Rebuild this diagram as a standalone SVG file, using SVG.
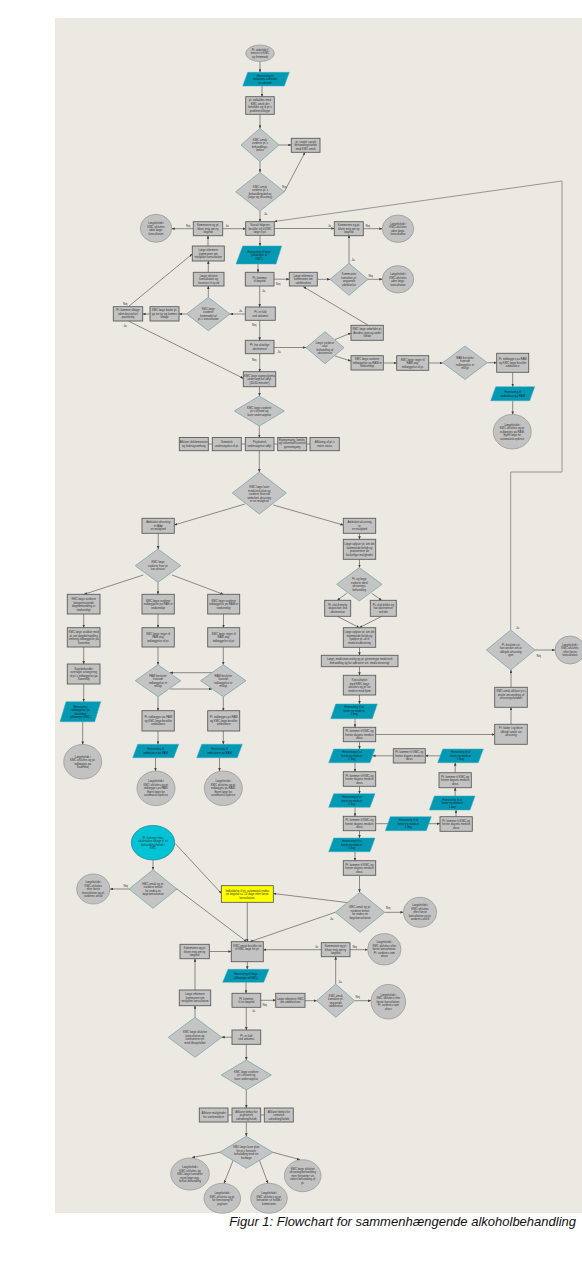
<svg xmlns="http://www.w3.org/2000/svg" width="582" height="1273" viewBox="0 0 582 1273">
<defs>
<marker id="ah" markerWidth="3.2" markerHeight="2.6" refX="3" refY="1.3" orient="auto" markerUnits="userSpaceOnUse"><path d="M0,0 L3.2,1.3 L0,2.6 z" fill="#404040"/></marker>
<style>
.b{fill:#c2c2c2;stroke:#5c5c5c;stroke-width:0.9}
.d{fill:#c4c4c4;stroke:#7aa7ac;stroke-width:0.8}
.e{fill:#c2c2c2;stroke:#8a8a8a;stroke-width:0.6}
.p{fill:#0499b3;stroke:#35aec2;stroke-width:0.5}
.cy{fill:#00c3d5;stroke:#2a7f8a;stroke-width:0.7}
.y{fill:#ffff00;stroke:#4a4a4a;stroke-width:0.8}
.t{font-family:"Liberation Sans",Arial,sans-serif;font-size:2.8px;fill:#333;text-anchor:middle}
.tp{font-family:"Liberation Sans",Arial,sans-serif;font-size:2.8px;fill:#0c2633;text-anchor:middle}
.lb{font-family:"Liberation Sans",Arial,sans-serif;font-size:3px;fill:#333}
.c{fill:none;stroke:#484848;stroke-width:0.6;marker-end:url(#ah)}
.cn{fill:none;stroke:#484848;stroke-width:0.6}
.cg{fill:none;stroke:#8c8c8c;stroke-width:0.9;marker-end:url(#ah)}
.cap{font-family:"Liberation Sans",Arial,sans-serif;font-size:13px;font-style:italic;fill:#111;text-anchor:end}
</style>
</defs>
<rect x="0" y="0" width="582" height="1273" fill="#ffffff"/>
<rect x="55" y="18" width="527" height="1195" fill="#ece8e2"/>

<g id="connectors">
<path class="c" d="M260,61.6 V72.3"/>
<path class="c" d="M262,86 V96.7"/>
<path class="c" d="M260,114.3 V128.3"/>
<path class="c" d="M279,145 H291.3"/>
<path class="c" d="M260,161.7 V172.3"/>
<path class="c" d="M284.3,191.7 L305,152.3"/>
<path class="c" d="M260,211 V221.7"/>
<path class="cg" d="M510.7,630 V472 H562 V181 L274.3,221.5"/>
<path class="c" d="M274.3,228.5 H334.3"/>
<path class="c" d="M363.3,228.7 H382.3"/>
<path class="c" d="M222.7,228.7 H245.7"/>
<path class="c" d="M193.3,228.7 H171.7"/>
<path class="c" d="M208,246 V235.7"/>
<path class="c" d="M260,235.3 V246"/>
<path class="c" d="M258,264 V272.3"/>
<path class="c" d="M274,279.2 H289.3"/>
<path class="c" d="M317.3,279.3 H330"/>
<path class="c" d="M349,263.3 V235"/>
<path class="c" d="M368,279.3 H382.3"/>
<path class="c" d="M259.7,286 V307"/>
<path class="c" d="M245.3,314 H230"/>
<path class="c" d="M186.6,314 H179"/>
<path class="c" d="M150,314 H142.7"/>
<path class="c" d="M208.3,297.3 V286"/>
<path class="c" d="M208.3,272.3 V261"/>
<path class="c" d="M128.3,306.7 L192.3,254"/>
<path class="c" d="M128.3,321 L243.3,378.3"/>
<path class="c" d="M259.7,320.3 V340.3"/>
<path class="c" d="M259.7,353.7 V371.7"/>
<path class="c" d="M274,347.5 H306"/>
<path class="c" d="M335,339.5 L351,333"/>
<path class="c" d="M335,356 L351,361"/>
<path class="c" d="M368.3,325.3 L303.3,286.7"/>
<path class="c" d="M383.3,363 H396.7"/>
<path class="c" d="M428.7,363 H442.7"/>
<path class="c" d="M487.3,362.7 H496.7"/>
<path class="c" d="M512.7,372.3 V386.7"/>
<path class="c" d="M512.7,400.7 V414.4"/>
<path class="c" d="M259.5,386.7 V396"/>
<path class="c" d="M259.3,426 V437.5"/>
<path class="cn" d="M208.3,444 H212.3 M241.3,444 H245.3 M274,444 H277.7 M306.7,444 H310"/>
<path class="c" d="M259.3,450.7 V472"/>
<path class="c" d="M245,504 L174.3,525"/>
<path class="c" d="M273.3,505 L343.3,525"/>
<path class="c" d="M158.2,533.3 V549"/>
<path class="c" d="M143.3,575 L84,594.3"/>
<path class="c" d="M158,582.3 V594.3"/>
<path class="c" d="M172,575 L223.3,594.3"/>
<path class="c" d="M83.7,614 V627.7"/>
<path class="c" d="M158,614 V627.7"/>
<path class="c" d="M223.5,614 V627.7"/>
<path class="c" d="M83.7,647 V664"/>
<path class="c" d="M83.7,684 V701.7"/>
<path class="c" d="M82.7,721.7 V744.4"/>
<path class="c" d="M158,647 V664.7"/>
<path class="c" d="M223.3,647 V664.7"/>
<path class="c" d="M212,672.7 H170"/>
<path class="c" d="M170,689 H212"/>
<path class="c" d="M158,696.7 V710.7"/>
<path class="c" d="M223.3,696.7 V710.7"/>
<path class="c" d="M158,731 V744.3"/>
<path class="c" d="M223.3,731 V744.3"/>
<path class="c" d="M155.5,757.7 V771"/>
<path class="c" d="M219.5,757.7 V771"/>
<path class="c" d="M359.5,533.3 V539.3"/>
<path class="c" d="M359.5,559.3 V567.6"/>
<path class="c" d="M346.7,593.3 L337.3,600.3"/>
<path class="c" d="M371.7,593.3 L381.7,600.3"/>
<path class="c" d="M337.3,616.3 L359.3,627.7"/>
<path class="c" d="M381.7,616.3 L359.3,627.7"/>
<path class="c" d="M359.5,647.3 V655.3"/>
<path class="c" d="M359.5,666.7 V675.3"/>
<path class="c" d="M359.5,695 V704"/>
<path class="c" d="M355,718.7 V727.3"/>
<path class="c" d="M359.5,741.7 V749"/>
<path class="c" d="M355,762.7 V771.7"/>
<path class="c" d="M359.5,786.3 V793.7"/>
<path class="c" d="M355,807.3 V816.3"/>
<path class="c" d="M359.5,830.7 V838"/>
<path class="c" d="M355,851.7 V860.7"/>
<path class="c" d="M359.5,875.3 V892.3"/>
<path class="c" d="M375.7,734.5 H494.7"/>
<path class="c" d="M393.3,755.8 H372.5"/>
<path class="c" d="M440.2,755.8 H425.3"/>
<path class="c" d="M455.2,772.7 V762.7"/>
<path class="c" d="M455.2,796 V787.7"/>
<path class="c" d="M456,816.7 V810"/>
<path class="c" d="M375.7,823.7 H440"/>
<path class="c" d="M511,724.3 V707.3"/>
<path class="c" d="M511,687.3 V670"/>
<path class="c" d="M535,650 H555"/>
<path class="c" d="M384.7,912.3 H403.3"/>
<path class="c" d="M348.3,902.7 L273.3,893.5"/>
<path class="c" d="M335.3,912.3 L250,941.7"/>
<path class="c" d="M175,843.3 L221.3,893.3"/>
<path class="c" d="M177,889 L246.7,941.7"/>
<path class="c" d="M247.3,902.3 V941.7"/>
<path class="c" d="M153,860 V869.7"/>
<path class="c" d="M129,889 H110"/>
<path class="c" d="M321.3,949.7 H263.3"/>
<path class="c" d="M350,949.7 H367.6"/>
<path class="c" d="M335.7,984 V956.7"/>
<path class="c" d="M354.7,1000.7 H371"/>
<path class="c" d="M209.3,951.5 H231.3"/>
<path class="c" d="M247.3,961.7 V969.3"/>
<path class="c" d="M246,982.3 V993.3"/>
<path class="c" d="M260.7,1000.3 H275.7"/>
<path class="c" d="M305,1000.7 H316.7"/>
<path class="c" d="M246.3,1007.3 V1030"/>
<path class="c" d="M232,1037.2 H221.7"/>
<path class="c" d="M195,1017.3 V1005.7"/>
<path class="c" d="M195,990 V958.7"/>
<path class="c" d="M246.3,1044.3 V1060"/>
<path class="c" d="M246.3,1090 V1108"/>
<path class="cn" d="M228,1115 H232 M260.7,1115 H264.3"/>
<path class="c" d="M246.3,1122 V1136.3"/>
<path class="c" d="M220,1152.3 L192,1157.5"/>
<path class="c" d="M233.3,1160 L224,1183.3"/>
<path class="c" d="M259.3,1160 L268,1183.3"/>
<path class="c" d="M273,1152.3 L300,1159.7"/>
</g>

<g id="labels">
<text class="lb" x="282" y="188">Nej</text>
<text class="lb" x="264" y="215">Ja</text>
<text class="lb" x="328" y="226.5">Ja</text>
<text class="lb" x="365.5" y="226.5">Nej</text>
<text class="lb" x="225.5" y="226.5">Ja</text>
<text class="lb" x="186" y="226.5">Nej</text>
<text class="lb" x="276" y="284.5">Nej</text>
<text class="lb" x="351.5" y="261">Ja</text>
<text class="lb" x="368.5" y="277">Nej</text>
<text class="lb" x="262" y="292">Ja</text>
<text class="lb" x="239" y="312">Ja</text>
<text class="lb" x="123" y="305">Nej</text>
<text class="lb" x="123.5" y="326.5">Ja</text>
<text class="lb" x="252" y="326">Nej</text>
<text class="lb" x="252" y="360.5">Nej</text>
<text class="lb" x="277.5" y="352.5">Ja</text>
<text class="lb" x="516" y="628.5">Ja</text>
<text class="lb" x="536.5" y="657">Nej</text>
<text class="lb" x="123.5" y="886.5">Nej</text>
<text class="lb" x="386" y="909">Nej</text>
<text class="lb" x="330" y="919.5">Ja</text>
<text class="lb" x="315" y="948">Ja</text>
<text class="lb" x="352.5" y="948">Nej</text>
<text class="lb" x="338.5" y="983">Ja</text>
<text class="lb" x="355.5" y="998">Nej</text>
<text class="lb" x="262.5" y="1005.5">Nej</text>
<text class="lb" x="252" y="1012">Ja</text>
</g>

<g id="n1"><ellipse class="e" cx="260" cy="53.3" rx="14.3" ry="8.3"/><text class="t"><tspan x="260" y="50.8">Pt. anbefalet/</tspan><tspan x="260" y="54.3">henvist til KMC</tspan><tspan x="260" y="57.8">og fremmødt</tspan></text></g>
<g id="n2"><polygon class="p" points="247.7,72.3 289.3,72.3 284.3,86 242.7,86"/><text class="tp"><tspan x="265" y="76.7">Henvisning til</tspan><tspan x="265" y="80.2">visitations-sekretær</tspan><tspan x="265" y="83.7">er udsendt</tspan></text></g>
<g id="n3"><rect class="b" x="245.7" y="96.7" width="28.6" height="17.6"/><text class="t"><tspan x="260" y="101.3">pt. indkaldes med</tspan><tspan x="260" y="104.8">KMC amuk der</tspan><tspan x="260" y="108.3">forholder sig til pt.'s</tspan><tspan x="260" y="111.8">problemstillinger</tspan></text></g>
<g id="n4"><polygon class="d" points="260,128.3 279,145 260,161.7 241,145"/><text class="t"><tspan x="260" y="140.8">KMC amuk</tspan><tspan x="260" y="144.3">vurderer pt.'s</tspan><tspan x="260" y="147.8">behandlings-</tspan><tspan x="260" y="151.3">behov</tspan></text></g>
<g id="n5"><rect class="b" x="291.3" y="138.3" width="28.7" height="14"/><text class="t"><tspan x="305.7" y="142.8">pt. starter socialt</tspan><tspan x="305.7" y="146.3">behandlingsforløb</tspan><tspan x="305.7" y="149.8">med KMC amuk</tspan></text></g>
<g id="n6"><polygon class="d" points="260,172.4 284.3,191.7 260,211 235.7,191.7"/><text class="t"><tspan x="260" y="187.5">KMC amuk</tspan><tspan x="260" y="191">vurderer pt.'s</tspan><tspan x="260" y="194.5">behandlingsbehov</tspan><tspan x="260" y="198">(læge og afrusning)</tspan></text></g>
<g id="n7"><rect class="b" x="245.7" y="221.7" width="28.6" height="13.6"/><text class="t"><tspan x="260" y="226">Socialt følgeren</tspan><tspan x="260" y="229.5">bestiller tid til KMC</tspan><tspan x="260" y="233">læge til pt.</tspan></text></g>
<g id="n8"><rect class="b" x="193.3" y="221.7" width="29.4" height="14"/><text class="t"><tspan x="208" y="226.2">Kommunen og pt.</tspan><tspan x="208" y="229.7">bliver enig om ny</tspan><tspan x="208" y="233.2">lægetid</tspan></text></g>
<g id="n9"><ellipse class="e" cx="156" cy="228.3" rx="15.7" ry="14"/><text class="t"><tspan x="156" y="224.1">Lægeforløb i</tspan><tspan x="156" y="227.6">KMC afsluttes</tspan><tspan x="156" y="231.1">uden læge-</tspan><tspan x="156" y="234.6">konsultation</tspan></text></g>
<g id="n10"><rect class="b" x="334.3" y="221.7" width="29" height="14"/><text class="t"><tspan x="348.8" y="226.2">Kommunen og pt.</tspan><tspan x="348.8" y="229.7">bliver enig om ny</tspan><tspan x="348.8" y="233.2">lægetid</tspan></text></g>
<g id="n11"><ellipse class="e" cx="398" cy="228.7" rx="15.7" ry="13.7"/><text class="t"><tspan x="398" y="224.5">Lægeforløb i</tspan><tspan x="398" y="228">KMC afsluttes</tspan><tspan x="398" y="231.5">uden læge-</tspan><tspan x="398" y="235">konsultation</tspan></text></g>
<g id="n12"><rect class="b" x="192.3" y="246" width="32" height="15"/><text class="t"><tspan x="208.3" y="251">Læge informere</tspan><tspan x="208.3" y="254.5">kommunen om</tspan><tspan x="208.3" y="258">mislykket konsultation</tspan></text></g>
<g id="n13"><polygon class="p" points="242.7,246 281.7,246 276,264 236,264"/><text class="tp"><tspan x="259" y="252.5">Henvisning til læge</tspan><tspan x="259" y="256">(afhænger af</tspan><tspan x="259" y="259.5">KMC)</tspan></text></g>
<g id="n14"><rect class="b" x="193.3" y="272.3" width="30.7" height="13.7"/><text class="t"><tspan x="208.7" y="276.7">Læge afslutter</tspan><tspan x="208.7" y="280.2">konsultation og</tspan><tspan x="208.7" y="283.7">henviser til ny tid</tspan></text></g>
<g id="n15"><rect class="b" x="245.3" y="272.3" width="28.7" height="13.7"/><text class="t"><tspan x="259.7" y="278.5">Pt. kommer</tspan><tspan x="259.7" y="282">til lægetid</tspan></text></g>
<g id="n16"><rect class="b" x="289.3" y="272.3" width="28" height="13.7"/><text class="t"><tspan x="303.3" y="276.7">Læge informere</tspan><tspan x="303.3" y="280.2">kommunen om</tspan><tspan x="303.3" y="283.7">udeblivelsen</tspan></text></g>
<g id="n17"><polygon class="d" points="349,263.3 368,279.3 349,295.3 330,279.3"/><text class="t"><tspan x="349" y="275.1">Kommunen</tspan><tspan x="349" y="278.6">kontakter pt.</tspan><tspan x="349" y="282.1">angående</tspan><tspan x="349" y="285.6">udeblivelse</tspan></text></g>
<g id="n18"><ellipse class="e" cx="398" cy="279.3" rx="15.7" ry="13.7"/><text class="t"><tspan x="398" y="275.1">Lægeforløb i</tspan><tspan x="398" y="278.6">KMC afsluttes</tspan><tspan x="398" y="282.1">uden læge-</tspan><tspan x="398" y="285.6">konsultation</tspan></text></g>
<g id="n19"><polygon class="d" points="208.3,297.3 230,314 208.3,330.7 186.6,314"/><text class="t"><tspan x="208.3" y="309.8">KMC læge</tspan><tspan x="208.3" y="313.3">vurderer</tspan><tspan x="208.3" y="316.8">fremmødet af</tspan><tspan x="208.3" y="320.3">pt.'s konsultation</tspan></text></g>
<g id="n20"><rect class="b" x="245.3" y="307" width="30" height="13.3"/><text class="t"><tspan x="260.3" y="313">Pt. er fuld</tspan><tspan x="260.3" y="316.5">ved ankomst</tspan></text></g>
<g id="n21"><rect class="b" x="150" y="306.7" width="29" height="14.3"/><text class="t"><tspan x="164.5" y="311.3">KMC læge beder pt.</tspan><tspan x="164.5" y="314.8">gå en tur og komme</tspan><tspan x="164.5" y="318.3">tilbage</tspan></text></g>
<g id="n22"><rect class="b" x="113.3" y="306.7" width="29.4" height="14.3"/><text class="t"><tspan x="128" y="311.3">Pt. kommer tilbage</tspan><tspan x="128" y="314.8">uden beruselse/</tspan><tspan x="128" y="318.3">påvirkning</tspan></text></g>
<g id="n23"><rect class="b" x="245.3" y="340.3" width="28.7" height="13.4"/><text class="t"><tspan x="259.7" y="346.3">Pt. har alvorlige</tspan><tspan x="259.7" y="349.8">abstinenser</tspan></text></g>
<g id="n24"><polygon class="d" points="325,331.7 344,347.7 325,363.7 306,347.7"/><text class="t"><tspan x="325" y="343.5">Læge vurderer</tspan><tspan x="325" y="347">akut</tspan><tspan x="325" y="350.5">behandling af</tspan><tspan x="325" y="354">abstinenser</tspan></text></g>
<g id="n25"><rect class="b" x="351" y="325.3" width="32.3" height="15"/><text class="t"><tspan x="367.2" y="330.3">KMC læge anbefaler pt.</tspan><tspan x="367.2" y="333.8">Antabus igen og andet</tspan><tspan x="367.2" y="337.3">forløb</tspan></text></g>
<g id="n26"><rect class="b" x="351" y="355.7" width="32.3" height="14.3"/><text class="t"><tspan x="367.2" y="360.3">KMC læge vurderer</tspan><tspan x="367.2" y="363.8">indlæggelse på RAM er</tspan><tspan x="367.2" y="367.3">nødvendigt</tspan></text></g>
<g id="n27"><rect class="b" x="396.7" y="355.7" width="32" height="14.6"/><text class="t"><tspan x="412.7" y="360.5">KMC læge ringer til</tspan><tspan x="412.7" y="364">RAM ang.</tspan><tspan x="412.7" y="367.5">indlæggelse af pt.</tspan></text></g>
<g id="n28"><polygon class="d" points="465,346 487.3,362.7 465,379.4 442.7,362.7"/><text class="t"><tspan x="465" y="358.5">RAM beslutter</tspan><tspan x="465" y="362">hvorvidt</tspan><tspan x="465" y="365.5">indlæggelse er</tspan><tspan x="465" y="369">muligt</tspan></text></g>
<g id="n29"><rect class="b" x="496.7" y="353.3" width="32" height="19"/><text class="t"><tspan x="512.7" y="360.3">Pt. indlægges på RAM</tspan><tspan x="512.7" y="363.8">og KMC læge bestiller</tspan><tspan x="512.7" y="367.3">ambulance</tspan></text></g>
<g id="n30"><polygon class="p" points="495.7,386.7 534.7,386.7 529.7,400.7 490.7,400.7"/><text class="tp"><tspan x="512.7" y="393">Henvisning til</tspan><tspan x="512.7" y="396.5">ambulance på RAM</tspan></text></g>
<g id="n31"><ellipse class="e" cx="512.3" cy="431.7" rx="19" ry="17.3"/><text class="t"><tspan x="512.3" y="425.7">Lægeforløb i</tspan><tspan x="512.3" y="429.2">KMC afsluttes og pt.</tspan><tspan x="512.3" y="432.7">indlægges på RAM.</tspan><tspan x="512.3" y="436.2">Egen læge får</tspan><tspan x="512.3" y="439.7">automatisk epikrise</tspan></text></g>
<g id="n32"><rect class="b" x="243.3" y="371.7" width="32.4" height="15"/><text class="t"><tspan x="259.5" y="376.7">KMC læge spørgeskema</tspan><tspan x="259.5" y="380.2">undersøgelse udfyl.</tspan><tspan x="259.5" y="383.7">(30-60 minutter)</tspan></text></g>
<g id="n33"><polygon class="d" points="259.3,396 284.3,411 259.3,426 234.3,411"/><text class="t"><tspan x="259.3" y="408.5">KMC læge vurderer</tspan><tspan x="259.3" y="412">pt.s tilstand og</tspan><tspan x="259.3" y="415.5">laver undersøgelse</tspan></text></g>
<g id="n34"><rect class="b" x="179.3" y="437.5" width="29" height="13.2"/><text class="t"><tspan x="193.8" y="443.4">Afklarer drikkemønster</tspan><tspan x="193.8" y="446.9">og forbrugsomfang</tspan></text></g>
<g id="n35"><rect class="b" x="212.3" y="437.5" width="29" height="13.2"/><text class="t"><tspan x="226.8" y="443.4">Somatisk</tspan><tspan x="226.8" y="446.9">undersøgelse af pt.</tspan></text></g>
<g id="n36"><rect class="b" x="245.3" y="437.5" width="28.7" height="13.2"/><text class="t"><tspan x="259.7" y="443.4">Psykiatrisk</tspan><tspan x="259.7" y="446.9">undersøgelse udfyl.</tspan></text></g>
<g id="n37"><rect class="b" x="277.7" y="437.5" width="29" height="13.2"/><text class="t"><tspan x="292.2" y="440.6">Egenomsorg, familie,</tspan><tspan x="292.2" y="444.1">og sikkerhed historisk</tspan><tspan x="292.2" y="447.6">gennemgang</tspan></text></g>
<g id="n38"><rect class="b" x="310" y="437.5" width="29.3" height="13.2"/><text class="t"><tspan x="324.7" y="443.4">Afklaring af pt.'s</tspan><tspan x="324.7" y="446.9">motiv status</tspan></text></g>
<g id="n39"><polygon class="d" points="259.3,472 286.3,493 259.3,514 232.3,493"/><text class="t"><tspan x="259.3" y="488">KMC læge laver</tspan><tspan x="259.3" y="491.5">medicinsk plan og</tspan><tspan x="259.3" y="495">vurderer hvorvidt</tspan><tspan x="259.3" y="498.5">ambulant afrusning</tspan><tspan x="259.3" y="502">er en mulighed</tspan></text></g>
<g id="n40"><rect class="b" x="142" y="518.3" width="32.3" height="15"/><text class="t"><tspan x="158.2" y="523.3">Ambulant afrusning</tspan><tspan x="158.2" y="526.8">er <tspan font-weight="bold">ikke</tspan></tspan><tspan x="158.2" y="530.3">en mulighed</tspan></text></g>
<g id="n41"><rect class="b" x="343.3" y="518.3" width="32.4" height="15"/><text class="t"><tspan x="359.5" y="523.3">Ambulant afrusning</tspan><tspan x="359.5" y="526.8">er</tspan><tspan x="359.5" y="530.3">en mulighed</tspan></text></g>
<g id="n42"><polygon class="d" points="158,549 180.7,565.7 158,582.4 135.3,565.7"/><text class="t"><tspan x="158" y="563.2">KMC læge</tspan><tspan x="158" y="566.7">vurderer hvor pt.</tspan><tspan x="158" y="570.2">kan afruses</tspan></text></g>
<g id="n43"><rect class="b" x="67.3" y="594.3" width="32.7" height="19.7"/><text class="t"><tspan x="83.7" y="600">KMC læge vurderer</tspan><tspan x="83.7" y="603.5">længerevarende</tspan><tspan x="83.7" y="607">døgnbehandling er</tspan><tspan x="83.7" y="610.5">nødvendigt</tspan></text></g>
<g id="n44"><rect class="b" x="142" y="594.3" width="32.3" height="19.7"/><text class="t"><tspan x="158.2" y="601.7">KMC læge vurderer</tspan><tspan x="158.2" y="605.2">indlæggelse på PAM er</tspan><tspan x="158.2" y="608.7">nødvendigt</tspan></text></g>
<g id="n45"><rect class="b" x="207.7" y="594.3" width="32" height="19.7"/><text class="t"><tspan x="223.7" y="601.7">KMC læge vurderer</tspan><tspan x="223.7" y="605.2">indlæggelse på RAM er</tspan><tspan x="223.7" y="608.7">nødvendigt</tspan></text></g>
<g id="n46"><rect class="b" x="67.3" y="627.7" width="32.7" height="19.3"/><text class="t"><tspan x="83.7" y="633.1">KMC læge snakker med</tspan><tspan x="83.7" y="636.6">pt. om døgnbehandling</tspan><tspan x="83.7" y="640.1">omkring indlæggelse på</tspan><tspan x="83.7" y="643.6">Saxenhøj</tspan></text></g>
<g id="n47"><rect class="b" x="142" y="627.7" width="32.3" height="19.3"/><text class="t"><tspan x="158.2" y="634.8">KMC læge ringer til</tspan><tspan x="158.2" y="638.3">PAM ang.</tspan><tspan x="158.2" y="641.8">indlæggelse af pt.</tspan></text></g>
<g id="n48"><rect class="b" x="207.7" y="627.7" width="32" height="19.3"/><text class="t"><tspan x="223.7" y="634.8">KMC læge ringer til</tspan><tspan x="223.7" y="638.3">RAM ang.</tspan><tspan x="223.7" y="641.8">indlæggelse af pt.</tspan></text></g>
<g id="n49"><rect class="b" x="67.3" y="664" width="32.7" height="20"/><text class="t"><tspan x="83.7" y="669.8">Sagsbehandler</tspan><tspan x="83.7" y="673.3">overtager arrangering</tspan><tspan x="83.7" y="676.8">af pt.'s indlæggelse på</tspan><tspan x="83.7" y="680.3">Saxenhøj</tspan></text></g>
<g id="n50"><polygon class="d" points="158,664.7 180.7,680.7 158,696.7 135.3,680.7"/><text class="t"><tspan x="158" y="676.5">PAM beslutter</tspan><tspan x="158" y="680">hvorvidt</tspan><tspan x="158" y="683.5">indlæggelse er</tspan><tspan x="158" y="687">muligt</tspan></text></g>
<g id="n51"><polygon class="d" points="223.3,664.7 246,680.7 223.3,696.7 200.6,680.7"/><text class="t"><tspan x="223.3" y="676.5">RAM beslutter</tspan><tspan x="223.3" y="680">hvorvidt</tspan><tspan x="223.3" y="683.5">indlæggelse er</tspan><tspan x="223.3" y="687">muligt</tspan></text></g>
<g id="n52"><polygon class="p" points="66,701.7 100.7,701.7 94.7,721.7 60,721.7"/><text class="tp"><tspan x="80.3" y="707.5">Henvisning</tspan><tspan x="80.3" y="711">indlæggelse på</tspan><tspan x="80.3" y="714.5">Saxenhøj</tspan><tspan x="80.3" y="718">(afhænger KMC)</tspan></text></g>
<g id="n53"><rect class="b" x="142" y="710.7" width="32.3" height="20.3"/><text class="t"><tspan x="158.2" y="718.3">Pt. indlægges på PAM</tspan><tspan x="158.2" y="721.8">og KMC læge bestiller</tspan><tspan x="158.2" y="725.3">ambulance</tspan></text></g>
<g id="n54"><rect class="b" x="207.7" y="710.7" width="32" height="20.3"/><text class="t"><tspan x="223.7" y="718.3">Pt. indlægges på RAM</tspan><tspan x="223.7" y="721.8">og KMC læge bestiller</tspan><tspan x="223.7" y="725.3">ambulance</tspan></text></g>
<g id="n55"><ellipse class="e" cx="82.7" cy="761.7" rx="19" ry="17.3"/><text class="t"><tspan x="82.7" y="757.5">Lægeforløb i</tspan><tspan x="82.7" y="761">KMC afsluttes og pt.</tspan><tspan x="82.7" y="764.5">indlægges på</tspan><tspan x="82.7" y="768">Saxenhøj</tspan></text></g>
<g id="n56"><polygon class="p" points="137.7,744.3 178.7,744.3 173.7,757.7 132.7,757.7"/><text class="tp"><tspan x="155.7" y="750.3">Henvisning til</tspan><tspan x="155.7" y="753.8">ambulance på PAM</tspan></text></g>
<g id="n57"><polygon class="p" points="201.7,744.3 242.3,744.3 237.3,757.7 196.7,757.7"/><text class="tp"><tspan x="219.5" y="750.3">Henvisning til</tspan><tspan x="219.5" y="753.8">ambulance på RAM</tspan></text></g>
<g id="n58"><ellipse class="e" cx="156" cy="788.3" rx="19" ry="17.3"/><text class="t"><tspan x="156" y="782.3">Lægeforløb i</tspan><tspan x="156" y="785.8">KMC afsluttes og pt.</tspan><tspan x="156" y="789.3">indlægges på PAM.</tspan><tspan x="156" y="792.8">Egen læge får</tspan><tspan x="156" y="796.3">automatisk epikrise</tspan></text></g>
<g id="n59"><ellipse class="e" cx="223.3" cy="788.3" rx="19" ry="17.3"/><text class="t"><tspan x="223.3" y="782.3">Lægeforløb i</tspan><tspan x="223.3" y="785.8">KMC afsluttes og pt.</tspan><tspan x="223.3" y="789.3">indlægges på RAM.</tspan><tspan x="223.3" y="792.8">Egen læge får</tspan><tspan x="223.3" y="796.3">automatisk epikrise</tspan></text></g>
<g id="n60"><ellipse class="cy" cx="153" cy="842.7" rx="21.7" ry="17.3"/><text class="t"><tspan x="153" y="838.5">Pt. kommer efter</tspan><tspan x="153" y="842">udskrivelse tilbage til sit</tspan><tspan x="153" y="845.5">behandlingsforløb i</tspan><tspan x="153" y="849">KMC</tspan></text></g>
<g id="n61"><polygon class="d" points="153,869.7 177,889 153,908.3 129,889"/><text class="t"><tspan x="153" y="884.8">KMC amuk og pt.</tspan><tspan x="153" y="888.3">vurderer behov</tspan><tspan x="153" y="891.8">for endnu en</tspan><tspan x="153" y="895.3">lægekonsultation</tspan></text></g>
<g id="n62"><ellipse class="e" cx="93.3" cy="889" rx="16.7" ry="15"/><text class="t"><tspan x="93.3" y="883">Lægeforløb i</tspan><tspan x="93.3" y="886.5">KMC afsluttes</tspan><tspan x="93.3" y="890">efter første</tspan><tspan x="93.3" y="893.5">konsultation og pt.</tspan><tspan x="93.3" y="897">vurderes afrust</tspan></text></g>
<g id="n63"><rect class="y" x="221.3" y="885.7" width="52" height="16.6"/><text class="t"><tspan x="247.3" y="891.5">Indkaldelse til pt. automatisk endnu</tspan><tspan x="247.3" y="895">en lægetid ca. 14 dage efter første</tspan><tspan x="247.3" y="898.5">konsultation.</tspan></text></g>
<g id="n64"><rect class="b" x="231.3" y="941.7" width="32" height="20"/><text class="t"><tspan x="247.3" y="946.5">KMC amuk bestiller tid</tspan><tspan x="247.3" y="950">til KMC læge for pt.</tspan></text></g>
<g id="n65"><rect class="b" x="180" y="944.3" width="29.3" height="14.4"/><text class="t"><tspan x="194.7" y="949">Kommunen og pt.</tspan><tspan x="194.7" y="952.5">bliver enig om ny</tspan><tspan x="194.7" y="956">lægetid</tspan></text></g>
<g id="n66"><rect class="b" x="343.3" y="727.3" width="32.4" height="14.4"/><text class="t"><tspan x="359.5" y="732">Pt. kommer til KMC og</tspan><tspan x="359.5" y="735.5">henter dagens medicin</tspan><tspan x="359.5" y="739">dosis</tspan></text></g>
<g id="n67"><rect class="b" x="393.3" y="748.7" width="32" height="14.3"/><text class="t"><tspan x="409.3" y="753.3">Pt. kommer til KMC og</tspan><tspan x="409.3" y="756.8">henter dagens medicin</tspan><tspan x="409.3" y="760.3">dosis</tspan></text></g>
<g id="n68"><rect class="b" x="343.3" y="771.7" width="32.4" height="14.6"/><text class="t"><tspan x="359.5" y="776.5">Pt. kommer til KMC og</tspan><tspan x="359.5" y="780">henter dagens medicin</tspan><tspan x="359.5" y="783.5">dosis</tspan></text></g>
<g id="n69"><rect class="b" x="439" y="772.7" width="32.3" height="15"/><text class="t"><tspan x="455.2" y="777.7">Pt. kommer til KMC og</tspan><tspan x="455.2" y="781.2">henter dagens medicin</tspan><tspan x="455.2" y="784.7">dosis</tspan></text></g>
<g id="n70"><rect class="b" x="343.3" y="816.3" width="32.4" height="14.4"/><text class="t"><tspan x="359.5" y="821">Pt. kommer til KMC og</tspan><tspan x="359.5" y="824.5">henter dagens medicin</tspan><tspan x="359.5" y="828">dosis</tspan></text></g>
<g id="n71"><rect class="b" x="440" y="816.7" width="32.3" height="14.6"/><text class="t"><tspan x="456.2" y="821.5">Pt. kommer til KMC og</tspan><tspan x="456.2" y="825">henter dagens medicin</tspan><tspan x="456.2" y="828.5">dosis</tspan></text></g>
<g id="n72"><rect class="b" x="343.3" y="860.7" width="32.4" height="14.6"/><text class="t"><tspan x="359.5" y="865.5">Pt. kommer til KMC og</tspan><tspan x="359.5" y="869">henter dagens medicin</tspan><tspan x="359.5" y="872.5">dosis</tspan></text></g>
<g id="p1"><polygon class="p" points="335.7,704 377.3,704 372.3,718.7 330.7,718.7"/><text class="tp"><tspan x="354" y="708.3">Henvisning til at</tspan><tspan x="354" y="711.8">hente ny medicin</tspan><tspan x="354" y="715.3">1 dag</tspan></text></g>
<g id="p2"><polygon class="p" points="333.7,749 375,749 370,762.7 328.7,762.7"/><text class="tp"><tspan x="351.8" y="753.3">Henvisning til at</tspan><tspan x="351.8" y="756.8">hente ny medicin</tspan><tspan x="351.8" y="760.3">1 dag</tspan></text></g>
<g id="p3"><polygon class="p" points="442.7,749 483.3,749 478.3,762.7 437.7,762.7"/><text class="tp"><tspan x="460.5" y="753.3">Henvisning til at</tspan><tspan x="460.5" y="756.8">hente ny medicin</tspan><tspan x="460.5" y="760.3">1 dag</tspan></text></g>
<g id="p4"><polygon class="p" points="333.7,793.7 375,793.7 370,807.3 328.7,807.3"/><text class="tp"><tspan x="351.8" y="798">Henvisning til at</tspan><tspan x="351.8" y="801.5">hente ny medicin</tspan><tspan x="351.8" y="805">1 dag</tspan></text></g>
<g id="p5"><polygon class="p" points="434.3,796 475,796 470,810 429.3,810"/><text class="tp"><tspan x="452.2" y="800.5">Henvisning til at</tspan><tspan x="452.2" y="804">hente ny medicin</tspan><tspan x="452.2" y="807.5">1 dag</tspan></text></g>
<g id="p6"><polygon class="p" points="390.3,816.7 431.3,816.7 426.3,830.7 385.3,830.7"/><text class="tp"><tspan x="408.3" y="821.2">Henvisning til at</tspan><tspan x="408.3" y="824.7">hente ny medicin</tspan><tspan x="408.3" y="828.2">1 dag</tspan></text></g>
<g id="p7"><polygon class="p" points="333.7,838 375,838 370,851.7 328.7,851.7"/><text class="tp"><tspan x="351.8" y="842.3">Henvisning til at</tspan><tspan x="351.8" y="845.8">hente ny medicin</tspan><tspan x="351.8" y="849.3">1 dag</tspan></text></g>
<g id="n73"><rect class="b" x="494.7" y="724.3" width="32.6" height="20"/><text class="t"><tspan x="511" y="729">Pt. falder i og bliver</tspan><tspan x="511" y="732.5">afbrudt under sin</tspan><tspan x="511" y="736">afrusning</tspan></text></g>
<g id="n74"><rect class="b" x="494.7" y="687.3" width="32.6" height="20"/><text class="t"><tspan x="511" y="692">KMC amuk afklarer pt.s</tspan><tspan x="511" y="695.5">ønske om ændring af</tspan><tspan x="511" y="699">afrusningsforløbet</tspan></text></g>
<g id="n75"><polygon class="d" points="510.7,630 535,650 510.7,670 486.4,650"/><text class="t"><tspan x="510.7" y="645.8">Pt. beslutter at</tspan><tspan x="510.7" y="649.3">han ønsker om at</tspan><tspan x="510.7" y="652.8">afbryde afrusning</tspan><tspan x="510.7" y="656.3">igen</tspan></text></g>
<g id="n76"><ellipse class="e" cx="570" cy="650" rx="15" ry="14"/><text class="t"><tspan x="570" y="645.8">Lægeforløb i</tspan><tspan x="570" y="649.3">KMC afsluttes</tspan><tspan x="570" y="652.8">efter første</tspan><tspan x="570" y="656.3">konsultation</tspan></text></g>
<g id="n77"><rect class="b" x="343.3" y="539.3" width="32.4" height="20"/><text class="t"><tspan x="359.5" y="545.1">Læge oplyser pt. om det</tspan><tspan x="359.5" y="548.6">kommende forløb og</tspan><tspan x="359.5" y="552.1">præsenterer de</tspan><tspan x="359.5" y="555.6">forskellige muligheder</tspan></text></g>
<g id="n78"><polygon class="d" points="359.3,567.6 382,584.3 359.3,601 336.6,584.3"/><text class="t"><tspan x="359.3" y="580.1">Pt. og læge</tspan><tspan x="359.3" y="583.6">vurderer ideel</tspan><tspan x="359.3" y="587.1">afrusnings-</tspan><tspan x="359.3" y="590.6">behandling</tspan></text></g>
<g id="n79"><rect class="b" x="324.7" y="600.3" width="26" height="16"/><text class="t"><tspan x="337.7" y="605.8">Pt. skal benytte</tspan><tspan x="337.7" y="609.3">disposition ved</tspan><tspan x="337.7" y="612.8">abstinenser</tspan></text></g>
<g id="n80"><rect class="b" x="370.3" y="600.3" width="26" height="16"/><text class="t"><tspan x="383.3" y="605.8">Pt. skal drikke og</tspan><tspan x="383.3" y="609.3">har abstinenser</tspan><tspan x="383.3" y="612.8">ved det</tspan></text></g>
<g id="n81"><rect class="b" x="343.3" y="627.7" width="32.4" height="19.6"/><text class="t"><tspan x="359.5" y="633.3">Læge oplyser pt. om det</tspan><tspan x="359.5" y="636.8">kommende forløb og</tspan><tspan x="359.5" y="640.3">hjælper pt. ud til</tspan><tspan x="359.5" y="643.8">medicinudlevering</tspan></text></g>
<g id="n82"><rect class="b" x="321.3" y="655.3" width="76.7" height="11.4"/><text class="t"><tspan x="359.7" y="660.3">Læge, medicinansvarlig og pt. gennemgår medicinsk</tspan><tspan x="359.7" y="663.8">behandling og får udleveret evt. medicinoversigt</tspan></text></g>
<g id="n83"><rect class="b" x="343.3" y="675.3" width="32.4" height="19.7"/><text class="t"><tspan x="359.5" y="681">Konsultation</tspan><tspan x="359.5" y="684.5">med KMC læge</tspan><tspan x="359.5" y="688">afsluttes og pt. får</tspan><tspan x="359.5" y="691.5">medicin med hjem</tspan></text></g>
<g id="n84"><polygon class="d" points="360,892.3 384.7,912.3 360,932.3 335.3,912.3"/><text class="t"><tspan x="360" y="908.1">KMC amuk og pt.</tspan><tspan x="360" y="911.6">vurderer behov</tspan><tspan x="360" y="915.1">for endnu en</tspan><tspan x="360" y="918.6">lægekonsultation</tspan></text></g>
<g id="n85"><ellipse class="e" cx="420" cy="912.3" rx="16.7" ry="15"/><text class="t"><tspan x="420" y="906.3">Lægeforløb i</tspan><tspan x="420" y="909.8">KMC afsluttes</tspan><tspan x="420" y="913.3">efter første</tspan><tspan x="420" y="916.8">konsultation og pt.</tspan><tspan x="420" y="920.3">vurderes afrust</tspan></text></g>
<g id="n86"><rect class="b" x="321.3" y="942.7" width="28.7" height="14"/><text class="t"><tspan x="335.7" y="947.2">Kommunen og pt.</tspan><tspan x="335.7" y="950.7">bliver enig om ny</tspan><tspan x="335.7" y="954.2">lægetid</tspan></text></g>
<g id="n87"><ellipse class="e" cx="384.3" cy="949.3" rx="16.7" ry="15.7"/><text class="t"><tspan x="384.3" y="943.3">Lægeforløb i</tspan><tspan x="384.3" y="946.8">KMC afsluttes efter</tspan><tspan x="384.3" y="950.3">første konsultation.</tspan><tspan x="384.3" y="953.8">Pt. vurderes som</tspan><tspan x="384.3" y="957.3">afrust</tspan></text></g>
<g id="n88"><polygon class="d" points="335.7,984 354.7,1000.7 335.7,1017.4 316.7,1000.7"/><text class="t"><tspan x="335.7" y="996.5">KMC amuk</tspan><tspan x="335.7" y="1000">kontakter pt.</tspan><tspan x="335.7" y="1003.5">angående</tspan><tspan x="335.7" y="1007">udeblivelse</tspan></text></g>
<g id="n89"><ellipse class="e" cx="388.3" cy="1001.7" rx="17.3" ry="17.3"/><text class="t"><tspan x="388.3" y="995.7">Lægeforløb i</tspan><tspan x="388.3" y="999.2">KMC afsluttes efter</tspan><tspan x="388.3" y="1002.7">første konsultation.</tspan><tspan x="388.3" y="1006.2">Pt. vurderes som</tspan><tspan x="388.3" y="1009.7">afrust</tspan></text></g>
<g id="n90"><polygon class="p" points="228,969.3 269,969.3 263.7,982.3 222.7,982.3"/><text class="tp"><tspan x="245.8" y="975">Henvisning til læge</tspan><tspan x="245.8" y="978.5">(afhænger af KMC)</tspan></text></g>
<g id="n91"><rect class="b" x="232" y="993.3" width="28.7" height="14"/><text class="t"><tspan x="246.3" y="999.6">Pt. kommer</tspan><tspan x="246.3" y="1003.1">til en lægetid</tspan></text></g>
<g id="n92"><rect class="b" x="275.7" y="993.3" width="29.3" height="14"/><text class="t"><tspan x="290.3" y="999.6">Læge informere KMC</tspan><tspan x="290.3" y="1003.1">om udeblivelsen</tspan></text></g>
<g id="n93"><rect class="b" x="179.3" y="990" width="31.4" height="15.7"/><text class="t"><tspan x="195" y="995.3">Læge informere</tspan><tspan x="195" y="998.8">kommunen om</tspan><tspan x="195" y="1002.3">mislykket konsultation</tspan></text></g>
<g id="n94"><polygon class="d" points="195,1017.3 221.7,1037.3 195,1057.3 168.3,1037.3"/><text class="t"><tspan x="195" y="1033.1">KMC læge afslutter</tspan><tspan x="195" y="1036.6">konsultation og</tspan><tspan x="195" y="1040.1">konfronterer pt.</tspan><tspan x="195" y="1043.6">med tilbagefaldet</tspan></text></g>
<g id="n95"><rect class="b" x="232" y="1030" width="28.7" height="14.3"/><text class="t"><tspan x="246.3" y="1036.5">Pt. er fuld</tspan><tspan x="246.3" y="1040">ved ankomst</tspan></text></g>
<g id="n96"><polygon class="d" points="246.3,1060 271.3,1075 246.3,1090 221.3,1075"/><text class="t"><tspan x="246.3" y="1072.5">KMC læge vurderer</tspan><tspan x="246.3" y="1076">pt.s tilstand og</tspan><tspan x="246.3" y="1079.5">laver undersøgelse</tspan></text></g>
<g id="n97"><rect class="b" x="199.3" y="1108" width="28.7" height="14"/><text class="t"><tspan x="213.7" y="1114.3">Afklarer muligheder</tspan><tspan x="213.7" y="1117.8">for støttemedicin</tspan></text></g>
<g id="n98"><rect class="b" x="232" y="1108" width="28.7" height="14"/><text class="t"><tspan x="246.3" y="1112.5">Afklarer behov for</tspan><tspan x="246.3" y="1116">psykiatrisk</tspan><tspan x="246.3" y="1119.5">udredning/forløb</tspan></text></g>
<g id="n99"><rect class="b" x="264.3" y="1108" width="29" height="14"/><text class="t"><tspan x="278.8" y="1112.5">Afklarer behov for</tspan><tspan x="278.8" y="1116">somatisk</tspan><tspan x="278.8" y="1119.5">udredning/forløb</tspan></text></g>
<g id="n100"><polygon class="d" points="246.3,1136.3 273,1152.3 246.3,1168.3 219.6,1152.3"/><text class="t"><tspan x="246.3" y="1148.1">KMC læge laver plan</tspan><tspan x="246.3" y="1151.6">for pt.s fortsatte</tspan><tspan x="246.3" y="1155.1">behandling med sin</tspan><tspan x="246.3" y="1158.6">fastlæge</tspan></text></g>
<g id="n101"><ellipse class="e" cx="190" cy="1174" rx="19.3" ry="16"/><text class="t"><tspan x="190" y="1168">Lægeforløb i</tspan><tspan x="190" y="1171.5">KMC afsluttes og</tspan><tspan x="190" y="1175">KMC læge kontakter</tspan><tspan x="190" y="1178.5">egen læge ang.</tspan><tspan x="190" y="1182">fortsat behandling</tspan></text></g>
<g id="n102"><ellipse class="e" cx="222.3" cy="1198.3" rx="18.3" ry="15"/><text class="t"><tspan x="222.3" y="1194.1">Lægeforløb i</tspan><tspan x="222.3" y="1197.6">KMC afsluttes og pt.</tspan><tspan x="222.3" y="1201.1">får henvisning til</tspan><tspan x="222.3" y="1204.6">psykiatri</tspan></text></g>
<g id="n103"><ellipse class="e" cx="269" cy="1198.3" rx="18.3" ry="15"/><text class="t"><tspan x="269" y="1194.1">Lægeforløb i</tspan><tspan x="269" y="1197.6">KMC afsluttes og pt.</tspan><tspan x="269" y="1201.1">fortsætter sit forløb i</tspan><tspan x="269" y="1204.6">kommunen</tspan></text></g>
<g id="n104"><ellipse class="e" cx="302.7" cy="1175.7" rx="18.3" ry="16"/><text class="t"><tspan x="302.7" y="1169.7">KMC læge afslutter</tspan><tspan x="302.7" y="1173.2">afrusningsbehandling</tspan><tspan x="302.7" y="1176.7">men fortsætter sin</tspan><tspan x="302.7" y="1180.2">videre behandling af</tspan><tspan x="302.7" y="1183.7">pt.</tspan></text></g>

<text class="cap" x="576" y="1226">Figur 1: Flowchart for sammenhængende alkoholbehandling</text>
</svg>
